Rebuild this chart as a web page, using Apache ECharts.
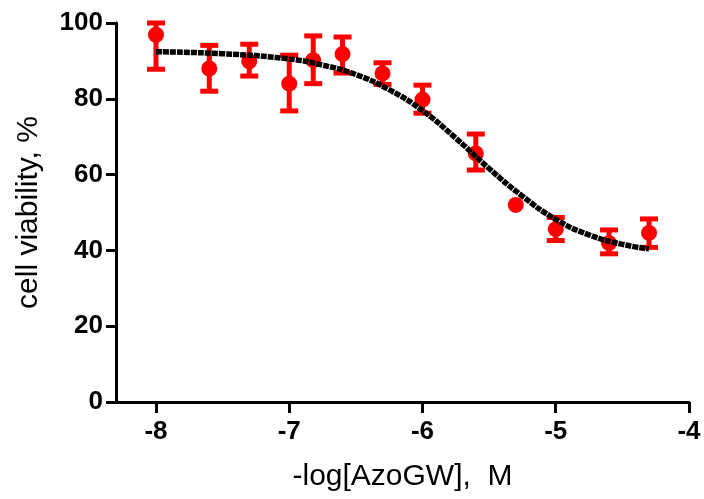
<!DOCTYPE html>
<html>
<head>
<meta charset="utf-8">
<script src="https://cdn.jsdelivr.net/npm/echarts@6/dist/echarts.min.js"></script>
<style>
html,body{margin:0;padding:0;background:#fff;}
#chart{width:704px;height:499px;}
</style>
</head>
<body>
<div id="chart"></div>
<script>
// Measured points (-log concentration, viability %)
var xValues  = [-8, -7.6, -7.3, -7, -6.82, -6.6, -6.3, -6, -5.6, -5.3, -5, -4.6, -4.3];
var yMeans   = [96.9, 88.0, 89.9, 84.0, 90.2, 91.8, 86.7, 79.8, 65.6, 52.0, 45.6, 41.9, 44.6];
var errLow   = [87.8, 82.0, 86.0, 76.8, 84.0, 86.8, 83.8, 76.2, 61.2, null, 42.6, 39.1, 40.8];
var errHigh  = [100.0, 94.1, 94.4, 91.5, 96.6, 96.3, 89.5, 83.6, 70.7, null, 48.7, 45.4, 48.3];
// Fitted curve
var curveX   = [-8, -7.5, -7, -6.75, -6.5, -6.25, -6, -5.75, -5.5, -5.25, -5, -4.75, -4.5, -4.3];
var curveY   = [92.4, 91.9, 90.5, 88.9, 86.4, 82.4, 76.9, 69.6, 61.6, 54.3, 48.2, 44.1, 41.6, 40.4];
var xTicks   = [-8, -7, -6, -5, -4];
var yTicks   = [0, 20, 40, 60, 80, 100];

var pointData = xValues.map(function (x, i) { return [x, yMeans[i]]; });
var errData = [];
xValues.forEach(function (x, i) {
  if (errLow[i] !== null) errData.push([x, errLow[i], errHigh[i]]);
});
var curveData = curveX.map(function (x, i) { return [x, curveY[i]]; });

var FONT = '"Liberation Sans", Arial, sans-serif';
var chart = echarts.init(document.getElementById('chart'), null, {renderer: 'canvas'});
chart.setOption({
  animation: false,
  backgroundColor: '#ffffff',
  grid: {left: 116, right: 15, top: 23, bottom: 97},
  xAxis: {
    type: 'value', min: -8.3, max: -4,
    name: '-log[AzoGW],  M', nameLocation: 'middle', nameGap: 60,
    nameTextStyle: {fontFamily: FONT, fontSize: 30, color: '#000'},
    axisLine: {show: true, onZero: false, lineStyle: {color: '#000', width: 3}},
    axisTick: {show: true, length: 11, customValues: xTicks, lineStyle: {color: '#000', width: 3}},
    axisLabel: {customValues: xTicks, margin: 17, fontFamily: FONT, fontWeight: 'bold', fontSize: 26, color: '#000',
      formatter: function (v) { return String(v); }},
    splitLine: {show: false}
  },
  yAxis: {
    type: 'value', min: 0, max: 100, interval: 20,
    name: 'cell viability, %', nameLocation: 'middle', nameGap: 72, nameRotate: 90,
    nameTextStyle: {fontFamily: FONT, fontSize: 30, color: '#000'},
    axisLine: {show: true, lineStyle: {color: '#000', width: 3}},
    axisTick: {show: true, length: 10, lineStyle: {color: '#000', width: 3}},
    axisLabel: {margin: 13, fontFamily: FONT, fontWeight: 'bold', fontSize: 26, color: '#000'},
    splitLine: {show: false}
  },
  series: [
    {
      type: 'custom',
      data: errData,
      z: 2,
      renderItem: function (params, api) {
        var x = api.value(0);
        var lo = api.coord([x, api.value(1)]);
        var hi = api.coord([x, api.value(2)]);
        var hw = 9;
        var st = {stroke: '#ff0000', lineWidth: 5};
        return {
          type: 'group',
          children: [
            {type: 'line', shape: {x1: lo[0], y1: lo[1], x2: hi[0], y2: hi[1]}, style: st},
            {type: 'line', shape: {x1: lo[0] - hw, y1: lo[1], x2: lo[0] + hw, y2: lo[1]}, style: st},
            {type: 'line', shape: {x1: hi[0] - hw, y1: hi[1], x2: hi[0] + hw, y2: hi[1]}, style: st}
          ]
        };
      }
    },
    {
      type: 'scatter',
      data: pointData,
      symbol: 'circle',
      symbolSize: 16,
      itemStyle: {color: '#ff0000', opacity: 1},
      z: 3
    },
    {
      type: 'line',
      data: curveData,
      smooth: 0.5,
      showSymbol: false,
      symbol: 'none',
      lineStyle: {color: '#000', width: 5.5, type: [6, 1]},
      z: 4
    }
  ]
});
</script>
</body>
</html>
